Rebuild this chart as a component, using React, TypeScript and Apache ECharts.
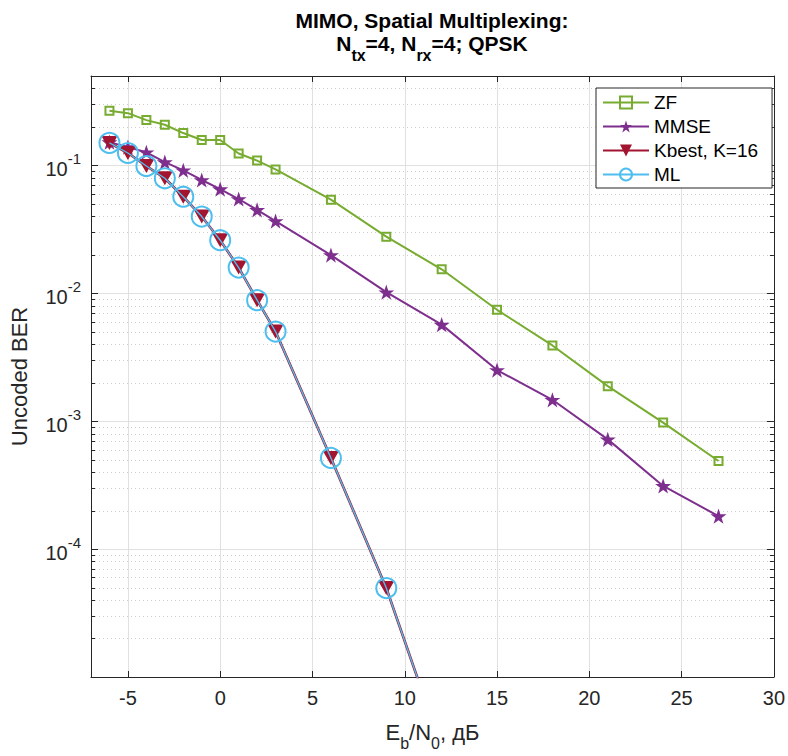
import React, { useEffect, useRef } from "react";
import * as echarts from "echarts";

// Eb/N0 values (dB)
const ebn0 = [-6, -5, -4, -3, -2, -1, 0, 1, 2, 3, 6, 9, 12, 15, 18, 21, 24, 27];
const ebn0Tree = [-6, -5, -4, -3, -2, -1, 0, 1, 2, 3, 6, 9, 12];

// Uncoded BER per detector
const berZF = [0.268, 0.256, 0.226, 0.208, 0.179, 0.158, 0.158, 0.124, 0.109, 0.093, 0.054, 0.0277, 0.0154, 0.00743, 0.00391, 0.00188, 0.000975, 0.000488];
const berMMSE = [0.152, 0.139, 0.1266, 0.106, 0.0915, 0.0769, 0.0652, 0.0546, 0.0449, 0.0367, 0.0199, 0.0102, 0.00569, 0.00251, 0.00147, 0.000721, 0.000312, 0.000181];
const berKbest = [0.15, 0.125, 0.0989, 0.0793, 0.0569, 0.0398, 0.026, 0.0159, 0.00883, 0.00502, 0.000516, 4.96e-5, 2.8e-6];
const berML = [0.15, 0.125, 0.0989, 0.0793, 0.0569, 0.0398, 0.026, 0.0159, 0.00883, 0.00502, 0.000516, 4.96e-5, 2.8e-6];

const seriesNames = ["ZF", "MMSE", "Kbest, K=16", "ML"];
const seriesColors = ["#77AC30", "#7E2F8E", "#A2142F", "#4DBEEE"];

const X_MIN = -7;
const X_MAX = 30;
const Y_MIN = 1e-5;
const Y_MAX = 0.5;

const FONT = "'Liberation Sans', Arial, Helvetica, sans-serif";
const STAR = "path://M50,0 L61.2,34.5 L97.6,34.5 L68.2,55.9 L79.4,90.5 L50,69.1 L20.6,90.5 L31.8,55.9 L2.4,34.5 L38.8,34.5 Z";

// minor log grid positions (2..9 x 10^k)
const minorY: number[] = [];
for (let k = -5; k <= -1; k++) {
  for (let m = 2; m <= 9; m++) {
    const v = m * Math.pow(10, k);
    if (v < Y_MAX - 1e-12) minorY.push(v);
  }
}

const zip = (xs: number[], ys: number[]) => xs.map((x, i) => [x, ys[i]]);

export default function App() {
  const ref = useRef<HTMLDivElement>(null);
  useEffect(() => {
    document.body.style.margin = "0";
    if (!ref.current) return;
    const chart = echarts.init(ref.current, undefined, { renderer: "svg", width: 788, height: 756 });
    const axisColor = "#262626";
    const gridColor = "#e0e0e0";

    const yLabel = (v: number) => {
      const l = Math.log10(v);
      const e = Math.round(l);
      if (Math.abs(l - e) > 1e-6) return "";
      if (e === -5) return "";
      return `{b|10}{s|${e}}`;
    };

    const option: any = {
      animation: false,
      textStyle: { fontFamily: FONT },
      graphic: [
        {
          type: "text",
          x: 432,
          y: 20,
          style: {
            text: "MIMO, Spatial Multiplexing:",
            font: `bold 21px ${FONT}`,
            fill: "#000",
            align: "center",
            verticalAlign: "middle",
          },
        },
        {
          type: "text",
          x: 432,
          y: 33,
          style: {
            text: "{n|N}{sub|tx}{n|=4, N}{sub|rx}{n|=4; QPSK}",
            align: "center",
            verticalAlign: "top",
            rich: {
              n: { font: `bold 21px ${FONT}`, fill: "#000", lineHeight: 30, verticalAlign: "top" },
              sub: { font: `bold 16px ${FONT}`, fill: "#000", lineHeight: 16, verticalAlign: "bottom" },
            },
          },
        },
      ],
      legend: {
        data: seriesNames,
        orient: "vertical",
        left: 596,
        top: 88,
        itemWidth: 46,
        itemHeight: 15,
        itemGap: 5,
        padding: [5, 14, 4, 6],
        borderColor: axisColor,
        borderWidth: 1,
        backgroundColor: "#fff",
        textStyle: { fontSize: 19, color: "#000", fontFamily: FONT },
      },
      grid: { left: 89, top: 76, width: 686, height: 607, show: false },
      xAxis: [
        {
          type: "value",
          min: X_MIN,
          max: X_MAX,
          splitNumber: 8,
          minInterval: 5,
          maxInterval: 5,
          axisLine: { show: true, onZero: false, lineStyle: { color: axisColor, width: 1 } },
          axisTick: { inside: true, length: 6, lineStyle: { color: axisColor } },
          axisLabel: { color: axisColor, fontSize: 20, margin: 11, showMinLabel: false, fontFamily: FONT },
          splitLine: { show: true, lineStyle: { color: gridColor, width: 1 } },
          name: "{n|E}{sub|b}{n|/N}{sub|0}{n|, дБ}",
          nameLocation: "middle",
          nameGap: 44,
          nameTextStyle: {
            rich: {
              n: { fontSize: 22, color: axisColor, lineHeight: 30, verticalAlign: "top", fontFamily: FONT },
              sub: { fontSize: 16, color: axisColor, lineHeight: 16, verticalAlign: "bottom", fontFamily: FONT },
            },
          },
        },
        {
          type: "value",
          position: "top",
          min: X_MIN,
          max: X_MAX,
          splitNumber: 8,
          minInterval: 5,
          maxInterval: 5,
          axisLine: { show: true, onZero: false, lineStyle: { color: axisColor, width: 1 } },
          axisTick: { inside: true, length: 6, lineStyle: { color: axisColor } },
          axisLabel: { show: false },
          splitLine: { show: false },
        },
      ],
      yAxis: [
        {
          type: "log",
          logBase: 10,
          min: Y_MIN,
          max: Y_MAX,
          axisLine: { show: true, onZero: false, lineStyle: { color: axisColor, width: 1 } },
          axisTick: { inside: true, length: 7, lineStyle: { color: axisColor } },
          axisLabel: {
            formatter: yLabel,
            margin: 10,
            rich: {
              b: { fontSize: 20, color: axisColor, lineHeight: 28, verticalAlign: "bottom", fontFamily: FONT },
              s: { fontSize: 15, color: axisColor, lineHeight: 15, verticalAlign: "top", fontFamily: FONT },
            },
          },
          splitLine: { show: true, lineStyle: { color: gridColor, width: 1 } },
          name: "Uncoded BER",
          nameLocation: "middle",
          nameGap: 61,
          nameTextStyle: { fontSize: 22, color: axisColor, fontFamily: FONT },
        },
        {
          type: "log",
          logBase: 10,
          min: Y_MIN,
          max: Y_MAX,
          position: "right",
          axisLine: { show: true, onZero: false, lineStyle: { color: axisColor, width: 1 } },
          axisTick: { inside: true, length: 7, lineStyle: { color: axisColor } },
          axisLabel: { show: false },
          splitLine: { show: false },
        },
      ],
      series: [
        {
          type: "custom",
          name: "minorGrid",
          silent: true,
          z: 1,
          xAxisIndex: 0,
          yAxisIndex: 0,
          data: minorY.map((v) => [X_MIN, v]),
          renderItem: (params: any, api: any) => {
            const p = api.coord([X_MIN, api.value(1)]);
            const cs = params.coordSys;
            const y = Math.round(p[1]) + 0.5;
            return {
              type: "group",
              children: [
                { type: "line", shape: { x1: cs.x, y1: y, x2: cs.x + cs.width, y2: y }, style: { stroke: "#cfcfcf", lineWidth: 1, lineDash: [1, 3] } },
                { type: "line", shape: { x1: cs.x, y1: y, x2: cs.x + 4, y2: y }, style: { stroke: axisColor, lineWidth: 1 } },
                { type: "line", shape: { x1: cs.x + cs.width - 4, y1: y, x2: cs.x + cs.width, y2: y }, style: { stroke: axisColor, lineWidth: 1 } },
              ],
            };
          },
        },
        {
          type: "line",
          name: seriesNames[0],
          z: 3,
          data: zip(ebn0, berZF),
          color: seriesColors[0],
          symbol: "rect",
          symbolSize: 8,
          lineStyle: { color: seriesColors[0], width: 2 },
          itemStyle: { color: "rgba(255,255,255,0)", borderColor: seriesColors[0], borderWidth: 2 },
        },
        {
          type: "line",
          name: seriesNames[1],
          z: 4,
          data: zip(ebn0, berMMSE),
          color: seriesColors[1],
          symbol: STAR,
          symbolSize: 16,
          symbolKeepAspect: true,
          lineStyle: { color: seriesColors[1], width: 2 },
          itemStyle: { color: seriesColors[1] },
        },
        {
          type: "line",
          name: seriesNames[2],
          z: 5,
          data: zip(ebn0Tree, berKbest),
          color: seriesColors[2],
          symbol: "triangle",
          symbolRotate: 180,
          symbolSize: [16, 14],
          lineStyle: { color: seriesColors[2], width: 2.6 },
          itemStyle: { color: seriesColors[2] },
        },
        {
          type: "line",
          name: seriesNames[3],
          z: 6,
          data: zip(ebn0Tree, berML),
          color: seriesColors[3],
          symbol: "circle",
          symbolSize: 20,
          lineStyle: { color: seriesColors[3], width: 1.4 },
          itemStyle: { color: "rgba(255,255,255,0)", borderColor: seriesColors[3], borderWidth: 2 },
        },
      ],
    };
    chart.setOption(option);
    return () => chart.dispose();
  }, []);
  return <div ref={ref} style={{ width: 788, height: 756 }} />;
}
